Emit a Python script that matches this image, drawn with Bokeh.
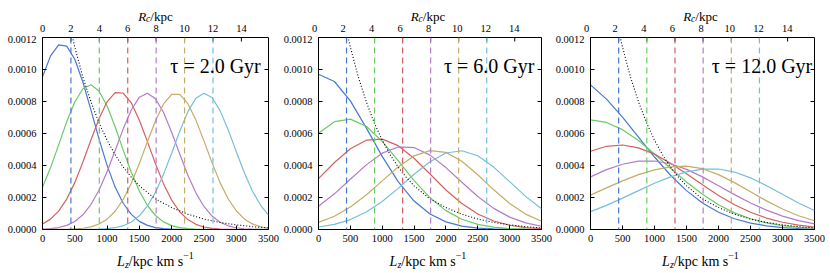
import math
from bokeh.plotting import figure
from bokeh.models import Range1d, FixedTicker, PrintfTickFormatter, Span, Label
from bokeh.layouts import row, column
from bokeh.embed import file_html
from bokeh.resources import INLINE

# ---------------- data ----------------
LZ_MAX = 3500
Y_MAX = 0.0012
VC = 220.0  # km/s, converts R_c to L_z
LZ_TICKS = [0, 500, 1000, 1500, 2000, 2500, 3000, 3500]
RC_TICKS = [0, 2, 4, 6, 8, 10, 12, 14]
Y_TICKS = [0.0, 0.0002, 0.0004, 0.0006, 0.0008, 0.0010, 0.0012]
RC_GUIDES = [2, 4, 6, 8, 10, 12]
TAU_LABELS = ["τ = 2.0 Gyr", "τ = 6.0 Gyr", "τ = 12.0 Gyr"]
COLORS = ["#4878CF", "#6ACC65", "#D65F5F", "#B47CC7", "#C4AD66", "#77BEDB"]

LZ_FINE = [0, 125, 250, 375, 500, 625, 750, 875, 1000, 1125, 1250, 1375, 1500, 1625,
           1750, 1875, 2000, 2125, 2250, 2375, 2500, 2625, 2750, 2875, 3000, 3125,
           3250, 3375, 3500]
LZ_COARSE = [0, 250, 500, 750, 1000, 1250, 1500, 1750, 2000, 2250, 2500, 2750, 3000,
             3250, 3500]

# tau = 2 Gyr (sampled on LZ_FINE)
T2_BLUE = [0.000954, 0.001085, 0.001154, 0.001146, 0.001064, 0.000922, 0.000748, 0.000566,
           0.000401, 0.000265, 0.000164, 0.0000945, 0.000051, 0.0000257, 0.0000121,
           0.0000053, 0.0000022, 0.0000008, 0.0000003, 0.0000001, 0, 0, 0, 0, 0, 0, 0, 0, 0]
T2_GREEN = [0.000264, 0.000387, 0.000529, 0.000673, 0.000797, 0.00088, 0.000905, 0.000866,
            0.000772, 0.000642, 0.000496, 0.000358, 0.00024, 0.00015, 0.0000875, 0.0000474,
            0.000024, 0.0000113, 0.0000049, 0.000002, 0.0000008, 0.0000003, 0.0000001,
            0, 0, 0, 0, 0, 0]
T2_RED = [0.0000339, 0.0000648, 0.000115, 0.00019, 0.000293, 0.00042, 0.000559, 0.000692,
          0.000798, 0.000855, 0.000853, 0.000792, 0.000683, 0.000549, 0.00041, 0.000285,
          0.000184, 0.000111, 0.000062, 0.0000323, 0.0000156, 0.000007, 0.0000029,
          0.0000011, 0.0000004, 0.0000001, 0, 0, 0]
T2_PURPLE = [0.0000023, 0.0000055, 0.0000123, 0.0000259, 0.0000505, 0.0000918, 0.000156,
             0.000245, 0.000361, 0.000494, 0.000629, 0.000747, 0.000827, 0.000852, 0.000817,
             0.000731, 0.000608, 0.000472, 0.000341, 0.000229, 0.000144, 0.0000839,
             0.0000456, 0.0000231, 0.0000109, 0.0000048, 0.000002, 0.0000008, 0.0000003]
T2_GOLD = [0, 0.0000002, 0.0000005, 0.0000013, 0.0000033, 0.0000077, 0.0000167, 0.0000341,
           0.0000647, 0.000114, 0.000188, 0.000289, 0.000412, 0.000549, 0.00068, 0.000785,
           0.000844, 0.000845, 0.000788, 0.000685, 0.000554, 0.000418, 0.000293, 0.000192,
           0.000117, 0.0000663, 0.000035, 0.0000172, 0.0000079]
T2_CYAN = [0, 0, 0, 0, 0, 0.0000003, 0.0000008, 0.000002, 0.000005, 0.0000112, 0.0000238,
           0.0000468, 0.0000858, 0.000147, 0.000233, 0.000346, 0.000477, 0.000614, 0.000735,
           0.00082, 0.000852, 0.000825, 0.000743, 0.000624, 0.000488, 0.000356, 0.000241,
           0.000153, 0.0000898]

# tau = 6 Gyr (sampled on LZ_COARSE)
T6_BLUE = [0.00097, 0.000925, 0.000804, 0.000635, 0.000457, 0.000299, 0.000178, 0.0000967,
           0.0000478, 0.0000215, 0.0000088, 0.0000033, 0.0000011, 0.0000003, 0.0000001]
T6_GREEN = [0.000601, 0.000674, 0.00069, 0.000645, 0.000551, 0.00043, 0.000306, 0.000199,
            0.000118, 0.0000642, 0.0000318, 0.0000144, 0.0000059, 0.0000022, 0.0000008]
T6_RED = [0.000318, 0.000419, 0.000505, 0.000558, 0.000565, 0.000524, 0.000445, 0.000347,
          0.000247, 0.000162, 0.0000967, 0.0000531, 0.0000267, 0.0000123, 0.0000052]
T6_PURPLE = [0.000145, 0.000223, 0.000314, 0.000404, 0.000477, 0.000516, 0.000512, 0.000465,
             0.000387, 0.000295, 0.000206, 0.000132, 0.0000773, 0.0000415, 0.0000204]
T6_GOLD = [0.0000447, 0.0000827, 0.00014, 0.000216, 0.000304, 0.000391, 0.00046, 0.000493,
           0.000482, 0.000427, 0.000342, 0.000248, 0.000162, 0.0000962, 0.0000516]
T6_CYAN = [0.0000155, 0.0000324, 0.0000621, 0.000109, 0.000175, 0.000257, 0.000345, 0.000424,
           0.000478, 0.000492, 0.000461, 0.00039, 0.000299, 0.000207, 0.00013]

# tau = 12 Gyr (sampled on LZ_COARSE)
T12_BLUE = [0.000904, 0.000815, 0.000702, 0.000577, 0.000453, 0.000339, 0.000243, 0.000166,
            0.000108, 0.0000671, 0.0000399, 0.0000226, 0.0000122, 0.0000063, 0.0000031]
T12_GREEN = [0.000685, 0.000669, 0.000624, 0.000556, 0.000472, 0.000383, 0.000297, 0.00022,
             0.000155, 0.000104, 0.0000671, 0.0000412, 0.0000242, 0.0000135, 0.0000072]
T12_RED = [0.000489, 0.00052, 0.000528, 0.00051, 0.000471, 0.000414, 0.000348, 0.000279,
           0.000213, 0.000155, 0.000108, 0.0000715, 0.0000452, 0.0000272, 0.0000157]
T12_PURPLE = [0.000329, 0.000374, 0.000408, 0.000427, 0.000428, 0.000411, 0.000376, 0.000329,
              0.000274, 0.000218, 0.000166, 0.000121, 0.0000835, 0.0000553, 0.0000349]
T12_GOLD = [0.000215, 0.00026, 0.000304, 0.000343, 0.000373, 0.000391, 0.000396, 0.00038,
            0.000343, 0.000293, 0.000236, 0.000179, 0.000128, 0.000086, 0.0000546]
T12_CYAN = [0.000112, 0.000151, 0.000196, 0.000243, 0.000289, 0.000329, 0.00036, 0.000377,
            0.000378, 0.000359, 0.000323, 0.000274, 0.00022, 0.000166, 0.000119]

# dotted black reference curve (same in every panel)
LZ_DOT = [450, 500, 625, 750, 875, 1000, 1125, 1250, 1375, 1500, 1750, 2000, 2250, 2500,
          2750, 3000, 3250, 3500]
DOT_VALS = [0.001224, 0.00114, 0.000953, 0.000798, 0.000667, 0.000558, 0.000467, 0.00039,
            0.000327, 0.000273, 0.000191, 0.000137, 0.0000955, 0.0000654, 0.000044,
            0.000029, 0.000018, 0.00001]

PANELS = [
    (LZ_FINE, [T2_BLUE, T2_GREEN, T2_RED, T2_PURPLE, T2_GOLD, T2_CYAN]),
    (LZ_COARSE, [T6_BLUE, T6_GREEN, T6_RED, T6_PURPLE, T6_GOLD, T6_CYAN]),
    (LZ_COARSE, [T12_BLUE, T12_GREEN, T12_RED, T12_PURPLE, T12_GOLD, T12_CYAN]),
]

# ---------------- layout ----------------
FONT = "Liberation Serif"
BORDERS = [(42, 12, 280), (34, 11, 272), (34, 16, 278)]  # left, right, width
TOP_H, MAIN_H, BOT_H = 35, 213, 25


def style_axis(ax):
    ax.axis_line_color = "black"
    ax.axis_line_width = 1
    ax.major_tick_line_color = "black"
    ax.major_tick_in = 4
    ax.major_tick_out = 0
    ax.minor_tick_line_color = None
    ax.major_label_text_font = FONT
    ax.major_label_text_font_size = "10.5px"
    ax.major_label_text_color = "black"
    ax.major_label_standoff = 5


def add_label(p, x, y, text, size, italic, dx=0, dy=0, align="left"):
    p.add_layout(Label(x=x, y=y, x_offset=dx, y_offset=dy, text=text,
                       text_font=FONT, text_font_size=size,
                       text_font_style="italic" if italic else "normal",
                       text_color="black", text_align=align,
                       text_baseline="alphabetic"))


def strip(width, height, left, right):
    # strip whose frame fills the whole canvas; x range extended so that
    # L_z positions line up with the main panel's frame below it
    fw = width - left - right
    xr = Range1d(-left * LZ_MAX / fw, LZ_MAX + right * LZ_MAX / fw)
    s = figure(width=width, height=height, output_backend="svg", toolbar_location=None,
               x_range=xr, y_range=Range1d(0, height),
               x_axis_location=None, y_axis_location=None,
               min_border_left=0, min_border_right=0,
               min_border_top=0, min_border_bottom=0)
    s.frame_align = False
    s.outline_line_color = None
    s.background_fill_color = "white"
    s.border_fill_color = "white"
    s.grid.visible = False
    return s


cols = []
for i, (lz, curves) in enumerate(PANELS):
    left, right, width = BORDERS[i]
    p = figure(width=width, height=MAIN_H, output_backend="svg", toolbar_location=None,
               x_range=Range1d(0, LZ_MAX), y_range=Range1d(0, Y_MAX),
               min_border_left=left, min_border_right=right,
               min_border_top=2, min_border_bottom=19)
    p.frame_align = False
    p.background_fill_color = "white"
    p.border_fill_color = "white"
    p.outline_line_color = "black"
    p.outline_line_width = 1
    p.xgrid.visible = False
    p.ygrid.visible = False

    p.xaxis.ticker = FixedTicker(ticks=LZ_TICKS)
    p.yaxis.ticker = FixedTicker(ticks=Y_TICKS)
    p.yaxis.formatter = PrintfTickFormatter(format="%.4f")
    style_axis(p.xaxis[0])
    style_axis(p.yaxis[0])
    p.yaxis[0].major_label_standoff = 6

    # inward tick marks on the right and top frame edges (top = R_c ticks)
    p.ray(x=[LZ_MAX] * len(Y_TICKS), y=Y_TICKS, length=4, length_units="screen",
          angle=math.pi, line_color="black", line_width=1)
    p.ray(x=[rc * VC for rc in RC_TICKS], y=[Y_MAX] * len(RC_TICKS), length=4,
          length_units="screen", angle=-math.pi / 2, line_color="black", line_width=1)

    for rc, col in zip(RC_GUIDES, COLORS):
        p.add_layout(Span(location=rc * VC, dimension="height", line_color=col,
                          line_width=1.2, line_dash="6 4"))
    for vals, col in zip(curves, COLORS):
        p.line(lz, vals, line_color=col, line_width=1.2)
    p.line(LZ_DOT, DOT_VALS, line_color="black", line_width=1.1, line_dash="1 2")

    add_label(p, 2680, Y_MAX, TAU_LABELS[i], "20px", False, 0, -28, align="center")

    mid = LZ_MAX / 2
    # top strip: R_c tick labels and title R_c/kpc
    ts = strip(width, TOP_H, left, right)
    for rc in RC_TICKS:
        add_label(ts, rc * VC, 6.7, str(rc), "10.5px", False, align="center")
    add_label(ts, mid, 18.7, "R", "13px", True, -17.3)
    add_label(ts, mid, 16.4, "c", "9.5px", True, -9.4)
    add_label(ts, mid, 18.7, "/kpc", "13px", False, -5.2)
    # bottom strip: title L_z/kpc km s^-1
    bs = strip(width, BOT_H, left, right)
    add_label(bs, mid, 12.5, "L", "14px", True, -38.4)
    add_label(bs, mid, 9.5, "z", "10px", True, -30.6)
    add_label(bs, mid, 12.5, "/kpc km s", "14px", False, -26.7)
    add_label(bs, mid, 18, "\u22121", "10px", False, 27.7)

    cols.append(column(ts, p, bs))

layout = row(*cols)
open("out.html", "w").write(file_html(layout, INLINE))
